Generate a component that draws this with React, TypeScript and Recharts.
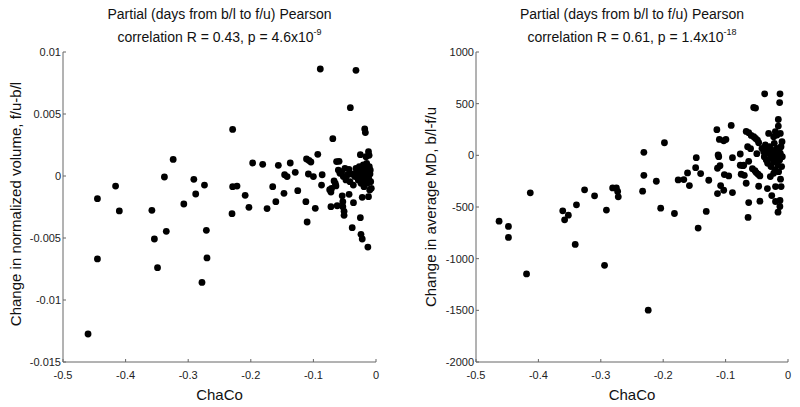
import { ScatterChart, Scatter, XAxis, YAxis } from 'recharts';

// ChaCo vs change in normalized volume (left panel)
const volChaCo = [
  -0.089, -0.032, -0.041, -0.018, -0.017, -0.229, -0.069, -0.324, -0.197, -0.181,
  -0.156, -0.137, -0.129, -0.111, -0.107, -0.104, -0.093, -0.063, -0.059, -0.025,
  -0.012, -0.011, -0.016, -0.338, -0.291, -0.416, -0.274, -0.229, -0.222, -0.288,
  -0.445, -0.41, -0.358, -0.307, -0.209, -0.203, -0.23, -0.174, -0.165, -0.16,
  -0.147, -0.146, -0.142, -0.125, -0.112, -0.11, -0.097, -0.108, -0.1, -0.086,
  -0.087, -0.074, -0.072, -0.071, -0.072, -0.067, -0.065, -0.064, -0.062, -0.054,
  -0.053, -0.053, -0.051, -0.051, -0.038, -0.036, -0.043, -0.025, -0.024, -0.022,
  -0.013, -0.022, -0.012, -0.46, -0.445, -0.354, -0.349, -0.335, -0.271, -0.27,
  -0.278,
  -0.0602, -0.0576, -0.0549, -0.0522, -0.0496, -0.048, -0.0458, -0.0432, -0.0416, -0.0389,
  -0.0362, -0.0336, -0.032, -0.0309, -0.0283, -0.0267, -0.0256, -0.024, -0.0229, -0.0213,
  -0.0203, -0.0192, -0.0181, -0.0171, -0.016, -0.0149, -0.0139, -0.0128, -0.0117, -0.0107,
  -0.0096, -0.0085, -0.0075, -0.0101, -0.0091, -0.0149, -0.0176,
];
const volChange = [
  0.00863, 0.00852, 0.00551, 0.0038, 0.0035, 0.00376, 0.00301, 0.00134, 0.00105, 0.00094,
  0.00086, 0.00105, 0.0003, 0.00137, 0.00126, 0.00113, 0.00175, 0.00116, 0.00118, 0.00172,
  0.00196, 0.00167, 0.00156, -0.00008, -0.00027, -0.00081, -0.00073, -0.00086, -0.00081, -0.00145,
  -0.00183, -0.00282, -0.00277, -0.00226, -0.00156, -0.00253, -0.00304, -0.00263, -0.00086, -0.00207,
  -0.0014, 0.0001, -0.00005, -0.00118, -0.00207, -0.00371, -0.00261, 0.00016, -0.00005, 0.0001,
  -0.00073, -0.0011, -0.0013, -0.001, -0.00247, -0.0004, -0.0006, -0.0008, -0.0024, -0.0016,
  -0.00207, -0.00247, -0.00285, -0.00317, -0.00417, -0.00215, -0.00148, -0.00336, -0.0047, -0.00508,
  -0.00573, -0.00172, -0.00167, -0.01274, -0.00669, -0.00508, -0.00739, -0.00446, -0.00438, -0.00661,
  -0.00858,
  0.00048, 0.00022, 0.00035, -0.00005, 0.00062, -0.00032, 0.00008, 0.00054, -0.00046, 0.00016,
  -0.00073, -0.00005, 0.00062, 0.00035, -0.00032, 0.00075, 0.00008, -0.00059, 0.00048, -0.00019,
  0.00089, -0.00086, 0.00022, -0.00038, 0.00062, 0, -0.00059, 0.00035, -0.00019, 0.00075,
  0.00016, -0.00046, -0.00099, -0.00113, 0.00048, 0.00102, 0.00075,
];

// ChaCo vs change in average MD (right panel)
const mdChaCo = [
  -0.0374, -0.0128, -0.0134, -0.055, -0.052, -0.0155, -0.0155, -0.091, -0.114, -0.11,
  -0.103, -0.0995, -0.198, -0.231, -0.067, -0.063, -0.059, -0.055, -0.052, -0.049,
  -0.047, -0.0647, -0.06, -0.0765, -0.05, -0.089, -0.112, -0.111, -0.113, -0.109,
  -0.147, -0.148, -0.231, -0.211, -0.176, -0.167, -0.161, -0.158, -0.14, -0.127,
  -0.102, -0.095, -0.108, -0.113, -0.103, -0.089, -0.0765, -0.0722, -0.071, -0.075,
  -0.07, -0.067, -0.063, -0.057, -0.053, -0.051, -0.048, -0.045, -0.047, -0.045,
  -0.063, -0.064, -0.033, -0.026, -0.02, -0.016, -0.013, -0.0128, -0.011, -0.012,
  -0.02, -0.413, -0.463, -0.448, -0.448, -0.419, -0.361, -0.358, -0.352, -0.339,
  -0.341, -0.326, -0.31, -0.291, -0.294, -0.281, -0.275, -0.273, -0.272, -0.233,
  -0.204, -0.182, -0.144, -0.131, -0.224,
  -0.0417, -0.039, -0.038, -0.0364, -0.0348, -0.0337, -0.0326, -0.031, -0.0294, -0.0283,
  -0.0273, -0.0257, -0.0241, -0.023, -0.022, -0.0209, -0.0198, -0.0187, -0.0176, -0.0166,
  -0.0155, -0.0144, -0.0134, -0.0123, -0.0112, -0.0102, -0.0091, -0.015, -0.023, -0.0283,
  -0.0096, -0.0176, -0.023, -0.031, -0.0123, -0.0203,
];
const mdChange = [
  595, 595, 511, 463, 457, 347, 283, 289, 248, 154,
  141, 154, 122, 29, 231, 219, 193, 180, 164, 148,
  122, 84, 64, 13, 16, -23, 3, -13, -125, -100,
  -23, -119, -193, -251, -238, -235, -170, -293, -177, -241,
  -186, -199, -293, -370, -338, -360, -96, -100, -96, -183,
  -193, -270, -58, -129, -148, -167, -183, -199, -299, -444,
  -457, -601, -322, -389, -447, -550, -495, -437, -302, -231,
  -302, -363, -637, -688, -794, -1148, -537, -624, -579, -479,
  -862, -334, -392, -530, -1064, -315, -315, -350, -402, -347,
  -511, -563, -704, -543, -1498,
  68, 35, -13, 100, -45, 51, -77, 19, 84, -29,
  -109, 51, 3, -61, 116, -141, 35, -29, 68, -93,
  3, 51, -45, 19, 84, -109, -13, -158, -174, -206,
  132, 196, 180, 212, 212, 228,
];

const chacoTicks = [-0.5, -0.4, -0.3, -0.2, -0.1, 0];
const volTicks = [-0.015, -0.01, -0.005, 0, 0.005, 0.01];
const mdTicks = [-2000, -1500, -1000, -500, 0, 500, 1000];

const FONT = '"Liberation Sans", Arial, Helvetica, sans-serif';
const AXIS = '#666';

const Dot = (p: any) => <circle cx={p.cx} cy={p.cy} r={3.4} fill="#000" />;

type PanelProps = {
  left: number;
  xs: number[];
  ys: number[];
  yTicks: number[];
  yAxisWidth: number;
  rightMargin: number;
  yLabel: string;
  yLabelX: number;
  yLabelY: number;
  r: string;
  pBase: string;
  pExp: string;
};

function Panel(props: PanelProps) {
  const { left, xs, ys, yTicks, yAxisWidth, rightMargin } = props;
  const data = xs.map((x, i) => ({ x, y: ys[i] }));
  const plotLeft = yAxisWidth;
  const plotRight = 400 - rightMargin;
  const center = (plotLeft + plotRight) / 2;
  const tick = { fontSize: 11, fill: '#222', fontFamily: FONT };

  return (
    <div style={{ position: 'absolute', left, top: 0, width: 400, height: 407 }}>
      <ScatterChart
        width={400}
        height={407}
        margin={{ top: 52, right: rightMargin, bottom: 0, left: 0 }}
      >
        <XAxis
          type="number"
          dataKey="x"
          domain={[-0.5, 0]}
          ticks={chacoTicks}
          tickFormatter={(v: number) => String(v)}
          height={45}
          stroke={AXIS}
          tickSize={-3}
          tickMargin={12}
          tick={tick}
          label={{ value: 'ChaCo', position: 'insideBottom', offset: 7, fontSize: 15, fill: '#111', fontFamily: FONT }}
        />
        <YAxis
          type="number"
          dataKey="y"
          domain={[yTicks[0], yTicks[yTicks.length - 1]]}
          ticks={yTicks}
          tickFormatter={(v: number) => String(v)}
          width={yAxisWidth}
          stroke={AXIS}
          tickSize={-3}
          tickMargin={5}
          tick={tick}
        />
        <Scatter data={data} shape={Dot} isAnimationActive={false} />
      </ScatterChart>

      {/* Title */}
      <div
        style={{
          position: 'absolute',
          left: center - 170,
          width: 340,
          top: 3,
          textAlign: 'center',
          fontFamily: FONT,
          fontSize: 14,
          lineHeight: '23px',
          color: '#111',
        }}
      >
        <div>Partial (days from b/l to f/u) Pearson</div>
        <div>
          correlation R = {props.r}, p = {props.pBase}x10
          <span style={{ fontSize: 9, position: 'relative', top: -7 }}>{props.pExp}</span>
        </div>
      </div>

      {/* Y label */}
      <div
        style={{
          position: 'absolute',
          left: props.yLabelX,
          top: props.yLabelY,
          transform: 'translate(-50%, -50%) rotate(-90deg)',
          whiteSpace: 'nowrap',
          fontFamily: FONT,
          fontSize: 15,
          color: '#111',
        }}
      >
        {props.yLabel}
      </div>
    </div>
  );
}

export default function App() {
  return (
    <div style={{ position: 'absolute', left: 0, top: 0, width: 800, height: 407, background: '#fff' }}>
      <Panel
        left={0}
        xs={volChaCo}
        ys={volChange}
        yTicks={volTicks}
        yAxisWidth={63}
        rightMargin={24}
        yLabel="Change in normalized volume, f/u-b/l"
        yLabelX={15}
        yLabelY={204}
        r="0.43"
        pBase="4.6"
        pExp="-9"
      />
      <Panel
        left={400}
        xs={mdChaCo}
        ys={mdChange}
        yTicks={mdTicks}
        yAxisWidth={76}
        rightMargin={12}
        yLabel="Change in average MD, b/l-f/u"
        yLabelX={30}
        yLabelY={207}
        r="0.61"
        pBase="1.4"
        pExp="-18"
      />
    </div>
  );
}
